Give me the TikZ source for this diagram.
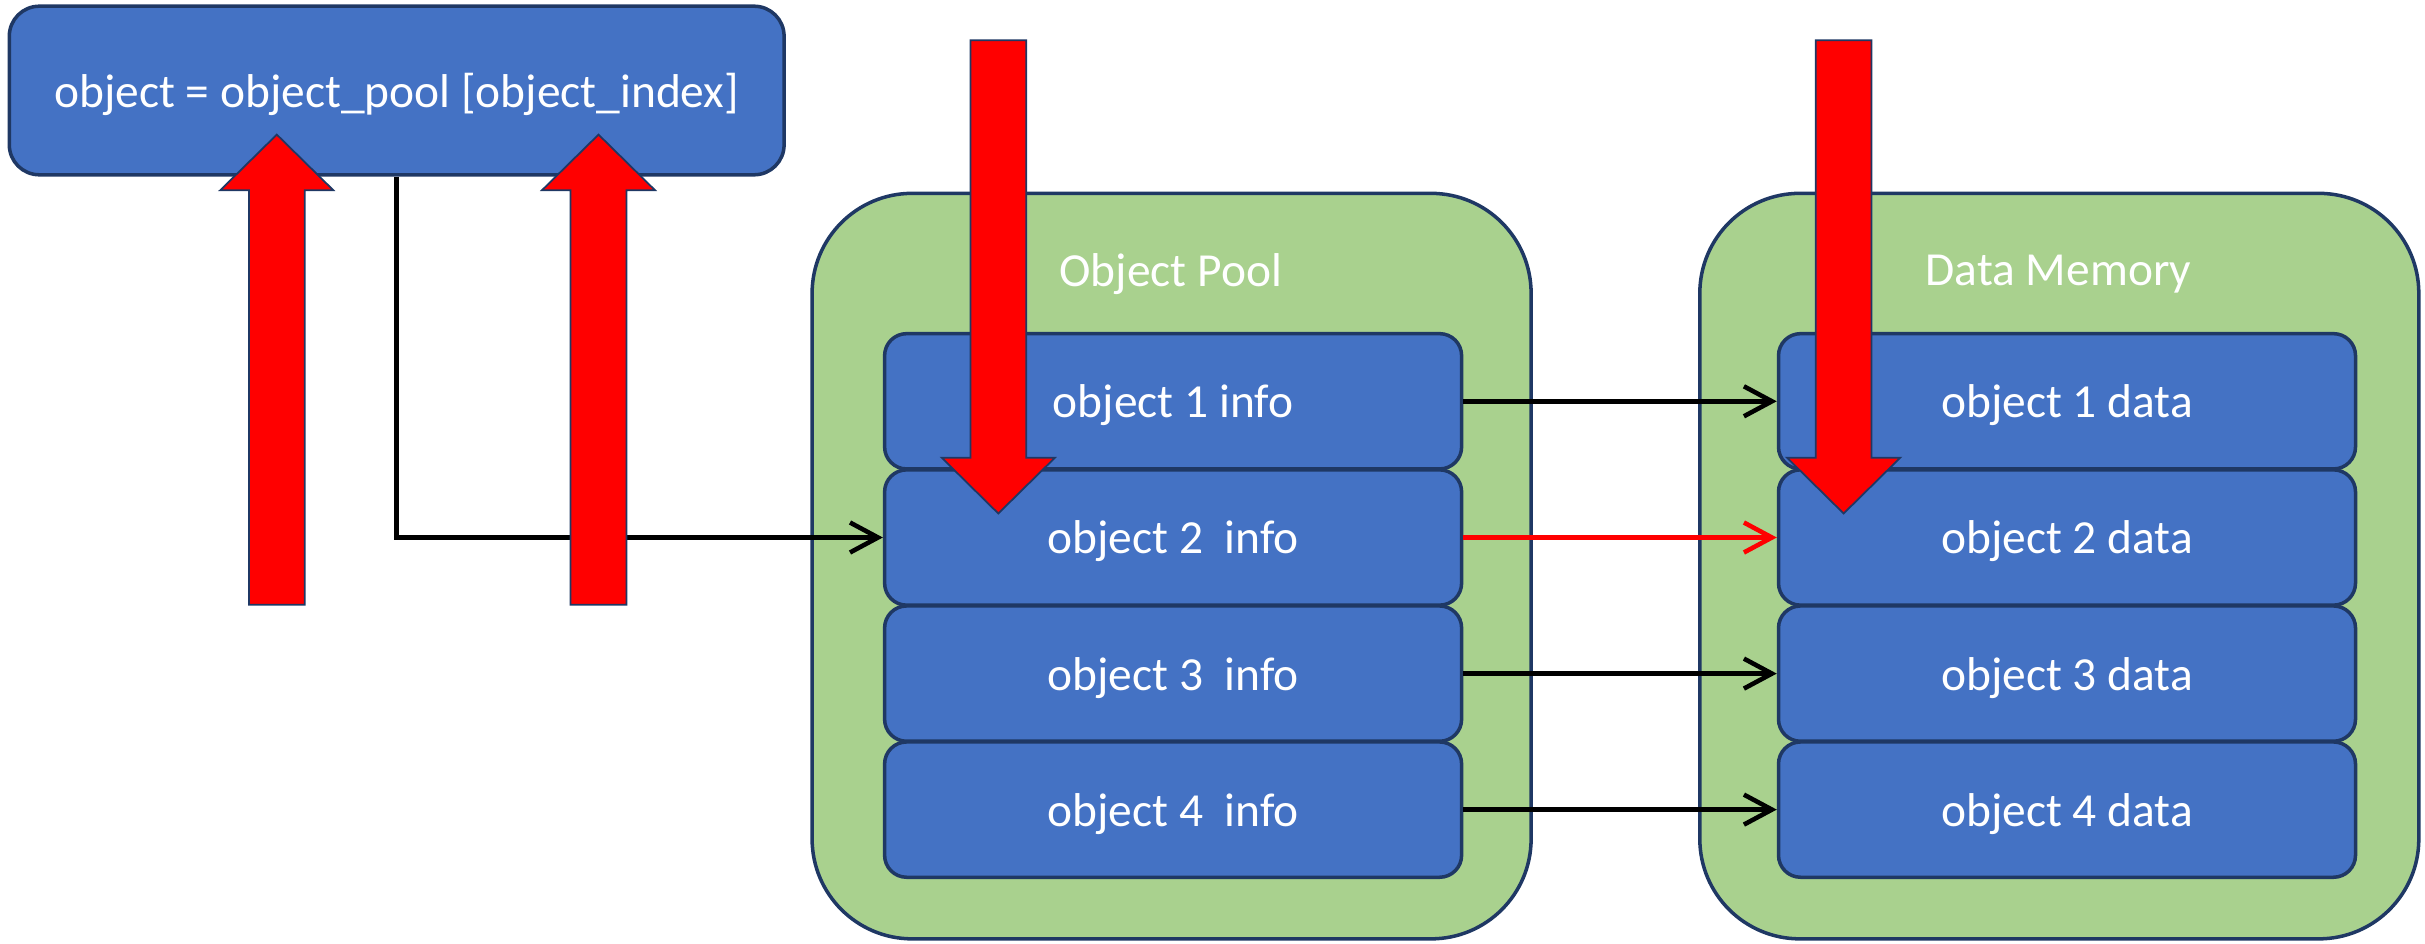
\documentclass[tikz,border=0pt]{standalone}
\usepackage{fontspec}
\setmainfont{Carlito}
\usepackage{tikz}
\usetikzlibrary{arrows.meta}
\definecolor{boxblue}{HTML}{4472C4}
\definecolor{poolgreen}{HTML}{A9D18E}
\definecolor{edgenavy}{HTML}{1F3864}
\tikzset{
 cell/.style={draw=edgenavy, line width=1pt, fill=boxblue, rounded corners=0.22cm,
   minimum width=5.77cm, minimum height=1.353cm, inner sep=0pt, text=white,
   text depth=0pt, font=\fontsize{13.5}{16}\selectfont},
 pool/.style={draw=edgenavy, line width=1pt, fill=poolgreen, rounded corners=1cm,
   minimum width=7.19cm, minimum height=7.455cm, inner sep=0pt},
 title/.style={text=white, text depth=0pt, font=\fontsize{13.5}{16}\selectfont},
 link/.style={->, line width=1.3pt},
 redarrow/.style={draw=edgenavy, line width=0.5pt, fill=red}
}
% x, tail, head base, tip
\newcommand{\fatarrow}[4]{%
 \draw[redarrow] ({#1-0.279},#2) -- ({#1-0.279},#3) -- ({#1-0.565},#3) -- (#1,#4)
   -- ({#1+0.565},#3) -- ({#1+0.279},#3) -- ({#1+0.279},#2) -- cycle;}

\begin{document}
\begin{tikzpicture}[>={Straight Barb[length=2.8mm,width=3mm]}]
\useasboundingbox (0,0) rectangle (24.25,-9.434);
\node[cell, rounded corners=0.3cm, minimum width=7.748cm, minimum height=1.686cm] (Top) at (3.967,-0.905) {object = object\_pool [object\_index]};

\node[pool] (Pool) at (11.716,-5.661) {};
\node[pool] (Mem) at (20.593,-5.661) {};
\node[title] (PoolT) at (11.708,-2.70) {Object Pool};
\node[title] (MemT) at (20.585,-2.70) {Data Memory};

\node[cell] (I1) at (11.731,-4.013) {object 1 info};
\node[cell] (I2) at (11.731,-5.375) {object 2~ info};
\node[cell] (I3) at (11.731,-6.736) {object 3~ info};
\node[cell] (I4) at (11.731,-8.096) {object 4~ info};

\node[cell] (D1) at (20.670,-4.013) {object 1 data};
\node[cell] (D2) at (20.670,-5.375) {object 2 data};
\node[cell] (D3) at (20.670,-6.736) {object 3 data};
\node[cell] (D4) at (20.670,-8.096) {object 4 data};

\draw[link] (Top.south) |- (I2.west);
\draw[link] (I1) -- (D1);
\draw[link, red] (I2) -- (D2);
\draw[link] (I3) -- (D3);
\draw[link] (I4) -- (D4);

% index arrows
\fatarrow{2.768}{-6.047}{-1.902}{-1.346}
\fatarrow{5.985}{-6.047}{-1.902}{-1.346}
\fatarrow{9.983}{-0.402}{-4.578}{-5.135}
\fatarrow{18.436}{-0.402}{-4.578}{-5.135}
\end{tikzpicture}
\end{document}
